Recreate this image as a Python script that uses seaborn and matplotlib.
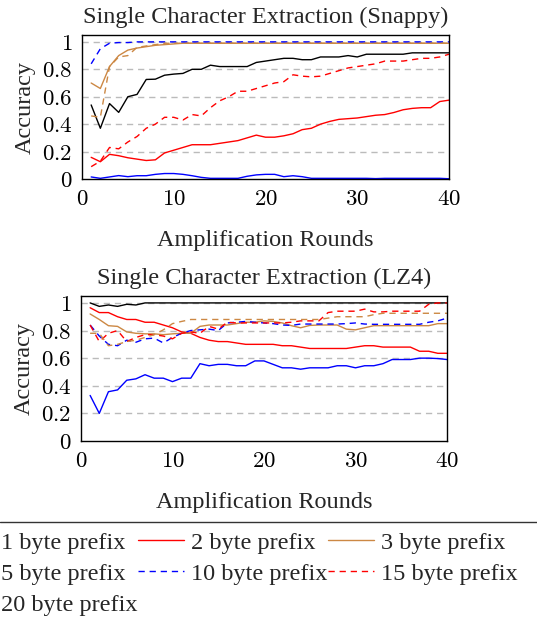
import numpy as np
import pandas as pd
import matplotlib
matplotlib.use('Agg')
import matplotlib.pyplot as plt
from matplotlib.lines import Line2D
import seaborn as sns

# x positions: amplification round 1..40
rounds = np.arange(1, 41)

labels = ['1 byte prefix', '2 byte prefix', '3 byte prefix', '5 byte prefix',
          '10 byte prefix', '15 byte prefix', '20 byte prefix']

x_ticks = [0, 10, 20, 30, 40]
y_ticks = [0, 0.2, 0.4, 0.6, 0.8, 1.0]
y_tick_labels = ['0', '0.2', '0.4', '0.6', '0.8', '1']

# Snappy
snappy_1 = [0.015, 0.005, 0.015, 0.025, 0.017, 0.024, 0.024, 0.034, 0.04, 0.04,
            0.034, 0.024, 0.012, 0.005, 0.005, 0.005, 0.005, 0.02, 0.03, 0.034,
            0.034, 0.017, 0.024, 0.017, 0.005, 0.005, 0.005, 0.005, 0.005, 0.005,
            0.005, 0.003, 0.005, 0.005, 0.005, 0.005, 0.005, 0.005, 0.005, 0.002]
snappy_2 = [0.158, 0.126, 0.18, 0.17, 0.155, 0.145, 0.135, 0.14, 0.19, 0.21,
            0.23, 0.25, 0.25, 0.25, 0.26, 0.27, 0.28, 0.30, 0.32, 0.305,
            0.305, 0.315, 0.33, 0.36, 0.37, 0.40, 0.42, 0.435, 0.44, 0.445,
            0.455, 0.465, 0.47, 0.485, 0.505, 0.515, 0.52, 0.52, 0.565, 0.575]
snappy_3 = [0.70, 0.66, 0.82, 0.90, 0.94, 0.955, 0.965, 0.975, 0.98, 0.985,
            0.99, 0.99, 0.99, 0.99, 0.99, 0.99, 0.99, 0.99, 0.99, 0.99,
            0.99, 0.99, 0.99, 0.99, 0.99, 0.99, 0.99, 0.99, 0.99, 0.99,
            0.99, 0.99, 0.99, 0.99, 0.99, 0.99, 0.99, 0.99, 0.99, 0.99]
snappy_5 = [0.54, 0.37, 0.55, 0.486, 0.60, 0.617, 0.726, 0.728, 0.757, 0.765,
            0.77, 0.80, 0.80, 0.83, 0.82, 0.82, 0.82, 0.82, 0.85, 0.86,
            0.87, 0.88, 0.88, 0.87, 0.87, 0.89, 0.89, 0.89, 0.90, 0.89,
            0.91, 0.91, 0.91, 0.91, 0.91, 0.92, 0.92, 0.92, 0.92, 0.92]
snappy_10 = [0.84, 0.95, 0.99, 0.995, 0.995, 1.0, 1.0, 1.0, 1.0, 1.0,
             1.0, 1.0, 1.0, 1.0, 1.0, 1.0, 1.0, 1.0, 1.0, 1.0,
             1.0, 1.0, 1.0, 1.0, 1.0, 1.0, 1.0, 1.0, 1.0, 1.0,
             1.0, 1.0, 1.0, 1.0, 1.0, 1.0, 1.0, 1.0, 1.0, 1.0]
snappy_15 = [0.09, 0.13, 0.23, 0.22, 0.27, 0.31, 0.37, 0.40, 0.45, 0.45,
             0.43, 0.47, 0.46, 0.52, 0.57, 0.60, 0.64, 0.64, 0.66, 0.68,
             0.70, 0.71, 0.76, 0.75, 0.745, 0.75, 0.77, 0.79, 0.81, 0.82,
             0.83, 0.84, 0.86, 0.86, 0.86, 0.87, 0.88, 0.88, 0.89, 0.91]
snappy_20 = [0.46, 0.45, 0.82, 0.89, 0.90, 0.96, 0.97, 0.98, 0.99, 0.99,
             0.99, 0.99, 0.99, 0.99, 0.99, 0.99, 0.99, 0.99, 0.99, 0.99,
             0.99, 0.99, 0.99, 0.99, 0.99, 0.99, 0.99, 0.99, 0.99, 0.99,
             0.99, 0.99, 0.99, 0.99, 0.99, 0.99, 0.99, 0.99, 0.99, 0.99]

# LZ4
lz4_1 = [0.33, 0.20, 0.357, 0.37, 0.44, 0.45, 0.48, 0.455, 0.455, 0.43,
         0.455, 0.455, 0.56, 0.545, 0.555, 0.555, 0.545, 0.545, 0.58, 0.58,
         0.555, 0.53, 0.53, 0.52, 0.53, 0.53, 0.53, 0.545, 0.545, 0.53,
         0.545, 0.545, 0.56, 0.59, 0.59, 0.59, 0.60, 0.60, 0.597, 0.59]
lz4_2 = [0.965, 0.93, 0.93, 0.90, 0.88, 0.88, 0.86, 0.86, 0.84, 0.82,
         0.79, 0.78, 0.75, 0.73, 0.72, 0.72, 0.71, 0.70, 0.70, 0.70,
         0.70, 0.69, 0.69, 0.68, 0.67, 0.67, 0.67, 0.67, 0.67, 0.68,
         0.69, 0.69, 0.68, 0.68, 0.68, 0.68, 0.65, 0.65, 0.635, 0.635]
lz4_3 = [0.92, 0.88, 0.835, 0.83, 0.79, 0.78, 0.776, 0.776, 0.77, 0.776,
         0.78, 0.78, 0.83, 0.84, 0.84, 0.84, 0.85, 0.86, 0.86, 0.87,
         0.866, 0.855, 0.835, 0.82, 0.837, 0.84, 0.84, 0.84, 0.81, 0.805,
         0.82, 0.835, 0.835, 0.835, 0.835, 0.835, 0.835, 0.835, 0.85, 0.85]
lz4_5 = [1.0, 0.975, 0.985, 0.975, 0.99, 0.985, 1.0, 1.0, 1.0, 1.0,
         1.0, 1.0, 1.0, 1.0, 1.0, 1.0, 1.0, 1.0, 1.0, 1.0,
         1.0, 1.0, 1.0, 1.0, 1.0, 1.0, 1.0, 1.0, 1.0, 1.0,
         1.0, 1.0, 1.0, 1.0, 1.0, 1.0, 1.0, 1.0, 1.0, 1.0]
lz4_10 = [0.84, 0.76, 0.70, 0.69, 0.73, 0.715, 0.74, 0.745, 0.71, 0.75,
          0.78, 0.80, 0.805, 0.81, 0.80, 0.855, 0.86, 0.866, 0.86, 0.855,
          0.85, 0.84, 0.837, 0.847, 0.847, 0.847, 0.847, 0.847, 0.85, 0.855,
          0.847, 0.845, 0.845, 0.845, 0.845, 0.845, 0.845, 0.86, 0.87, 0.89]
lz4_15 = [0.84, 0.72, 0.78, 0.80, 0.72, 0.75, 0.77, 0.77, 0.76, 0.74,
          0.78, 0.79, 0.78, 0.83, 0.81, 0.86, 0.855, 0.855, 0.855, 0.855,
          0.855, 0.855, 0.86, 0.87, 0.87, 0.87, 0.93, 0.94, 0.94, 0.94,
          0.955, 0.935, 0.935, 0.94, 0.94, 0.94, 0.94, 0.99, 1.0, 1.0]
lz4_20 = [0.78, 0.78, 0.69, 0.70, 0.72, 0.73, 0.75, 0.77, 0.805, 0.85,
          0.866, 0.88, 0.88, 0.88, 0.88, 0.88, 0.88, 0.88, 0.88, 0.88,
          0.88, 0.88, 0.88, 0.88, 0.88, 0.88, 0.89, 0.90, 0.90, 0.90,
          0.90, 0.915, 0.925, 0.925, 0.925, 0.925, 0.925, 0.925, 0.925, 0.925]

snappy = [snappy_1, snappy_2, snappy_3, snappy_5, snappy_10, snappy_15, snappy_20]
lz4 = [lz4_1, lz4_2, lz4_3, lz4_5, lz4_10, lz4_15, lz4_20]

ORANGE = '#cc8844'
colors = ['#0000ff', '#ff0000', ORANGE, '#000000', '#0000ff', '#ff0000', ORANGE]
DASH = (0, (4.5, 3.5))
styles = ['-', '-', '-', '-', DASH, DASH, DASH]

FS = 17.5      # text (titles, labels, legend)
TICK_FS = 16.5  # tick numbers (math font)


def draw_panel(ax, data, title):
    for vals, lab, c, ls in zip(data, labels, colors, styles):
        sns.lineplot(x=rounds, y=vals, ax=ax, color=c, linestyle=ls,
                     linewidth=1.0, label=lab, legend=False)
    ax.set_xlim(0, 40)
    ax.set_ylim(0, 1.05)
    ax.set_xticks(x_ticks)
    ax.set_xticklabels([f'${t}$' for t in x_ticks])
    ax.set_yticks(y_ticks)
    ax.set_yticklabels([f'${t}$' for t in y_tick_labels])
    for y in y_ticks[1:]:
        ax.axhline(y, color='#bbbbbb', linewidth=1.0, linestyle=DASH, zorder=0)
    ax.tick_params(direction='in', length=4, width=0.8, pad=7,
                   labelsize=TICK_FS, colors='black')
    for sp in ax.spines.values():
        sp.set_color('black')
        sp.set_linewidth(1.0)
    ax.set_title(title, fontsize=FS, pad=9)
    ax.set_xlabel('Amplification Rounds', fontsize=FS, labelpad=14.5)
    ax.set_ylabel('Accuracy', fontsize=FS, labelpad=4)


def main():
    sns.set_theme(style='white')
    plt.rcParams['font.family'] = ['Liberation Serif', 'DejaVu Serif']
    plt.rcParams['mathtext.fontset'] = 'cm'

    fig = plt.figure(figsize=(5.37, 6.22), dpi=100)
    ax1 = fig.add_axes([0.1527, 0.7122, 0.6834, 0.2315])
    ax2 = fig.add_axes([0.1508, 0.2910, 0.6816, 0.2331])

    draw_panel(ax1, snappy, 'Single Character Extraction (Snappy)')
    draw_panel(ax2, lz4, 'Single Character Extraction (LZ4)')

    handles, labs = ax1.get_legend_handles_labels()
    # column-major reorder so the legend reads row by row in 3 columns
    order = [0, 3, 6, 1, 4, 2, 5]
    fig.legend([handles[i] for i in order], [labs[i] for i in order],
               ncol=3, loc='upper left', bbox_to_anchor=(-0.097, 0.145),
               bbox_transform=fig.transFigure, frameon=False, fontsize=FS,
               handlelength=1.9, handletextpad=0.3, columnspacing=0.0,
               labelspacing=0.37, borderpad=0, borderaxespad=0)
    fig.add_artist(Line2D([0, 1], [0.1608, 0.1608], transform=fig.transFigure,
                          color='#333333', linewidth=1.0))

    fig.savefig('out.png', dpi=100)


if __name__ == '__main__':
    main()
